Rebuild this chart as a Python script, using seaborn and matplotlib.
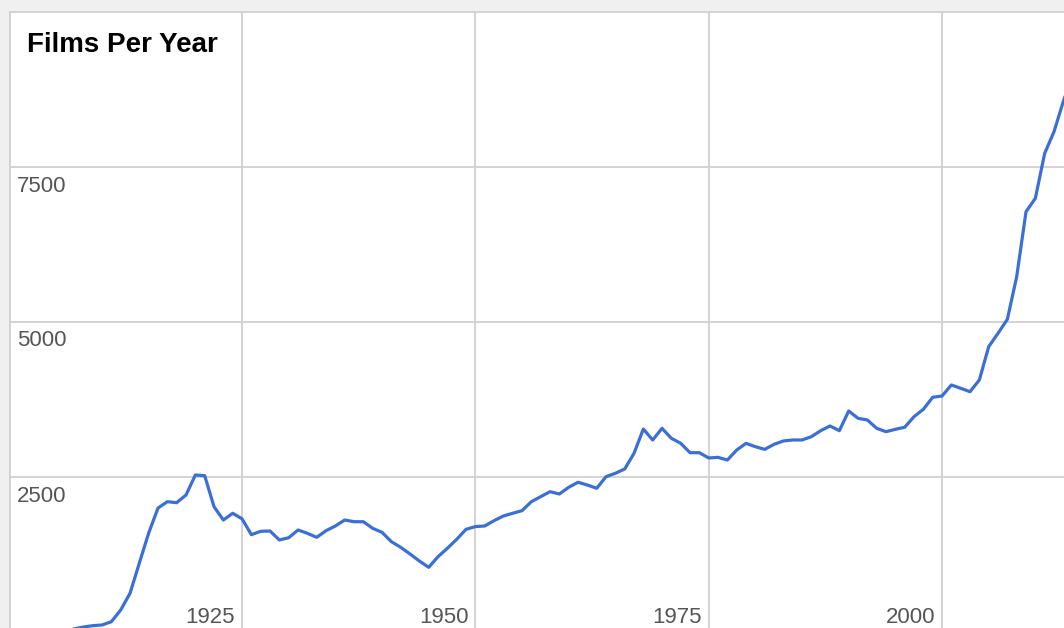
import pandas as pd
import matplotlib
matplotlib.use('Agg')
import matplotlib.pyplot as plt
import matplotlib.transforms as mtransforms
import seaborn as sns

# Данные: число фильмов по годам
years = list(range(1900, 2015))
films = [0, 0, 5, 5, 10, 10, 20, 50, 80, 102,
         113, 166, 355, 624, 1113, 1597, 2000, 2102, 2086, 2210,
         2532, 2521, 2021, 1806, 1915, 1826, 1570, 1624, 1629, 1484,
         1521, 1645, 1592, 1527, 1634, 1710, 1806, 1779, 1779, 1672,
         1608, 1457, 1366, 1258, 1145, 1043, 1215, 1350, 1495, 1656,
         1700, 1710, 1795, 1871, 1915, 1957, 2102, 2183, 2263, 2226,
         2334, 2415, 2371, 2318, 2505, 2560, 2629, 2882, 3274, 3097,
         3285, 3124, 3044, 2892, 2892, 2807, 2817, 2774, 2935, 3043,
         2989, 2946, 3027, 3081, 3097, 3097, 3150, 3247, 3323, 3247,
         3565, 3447, 3420, 3285, 3231, 3269, 3302, 3473, 3592, 3786,
         3806, 3984, 3931, 3876, 4065, 4602, 4818, 5044, 5731, 6779,
         6995, 7721, 8070, 8560, 9000]
y_ticks = [2500, 5000, 7500]
x_ticks = [1925, 1950, 1975, 2000]
title = 'Films Per Year'

df = pd.DataFrame({'year': years, 'films': films})

sns.set_style('white')
plt.rcParams['font.family'] = ['Liberation Sans', 'DejaVu Sans']

W, H = 1064, 628
fig = plt.figure(figsize=(W / 100, H / 100), dpi=100, facecolor='#f0f0f0')
# область графика: от x=10 до края, от y=12 до чуть ниже нижнего края
ax = fig.add_axes([10 / W, -4 / H, 1060 / W, 620 / H])
ax.set_facecolor('white')

sns.lineplot(data=df, x='year', y='films', ax=ax, color='#3a6fd6',
             linewidth=2.3, solid_joinstyle='round', solid_capstyle='round')

ax.set_xlim(1900.14, 1900.14 + 1060 / 9.3333)
ax.set_ylim(0, 10000)

for v in y_ticks:
    ax.axhline(v, color='#d0d0d0', linewidth=1.3, zorder=0)
for v in x_ticks:
    ax.axvline(v, color='#d0d0d0', linewidth=1.3, zorder=0)

ax.set_xticks([])
ax.set_yticks([])
ax.set_xlabel('')
ax.set_ylabel('')
for s in ['right', 'bottom']:
    ax.spines[s].set_visible(False)
for s in ['top', 'left']:
    ax.spines[s].set_color('#d0d0d0')
    ax.spines[s].set_linewidth(1.3)

# подписи оси Y внутри графика, под линиями сетки
ytrans = mtransforms.offset_copy(ax.get_yaxis_transform(), fig=fig, x=7, y=-24.5, units='dots')
for v in y_ticks:
    ax.text(0, v, str(v), transform=ytrans, ha='left', va='baseline',
            fontsize=16, color='#555555')

# подписи оси X слева от вертикальных линий
xtrans = mtransforms.offset_copy(ax.get_xaxis_transform(), fig=fig, x=-7, y=9, units='dots')
for v in x_ticks:
    ax.text(v, 0, str(v), transform=xtrans, ha='right', va='baseline',
            fontsize=16, color='#555555')

fig.text(27 / W, 1 - 52 / H, title, ha='left', va='baseline',
         fontsize=20, fontweight='bold', color='black')

fig.savefig('out.png', dpi=100, facecolor=fig.get_facecolor())
